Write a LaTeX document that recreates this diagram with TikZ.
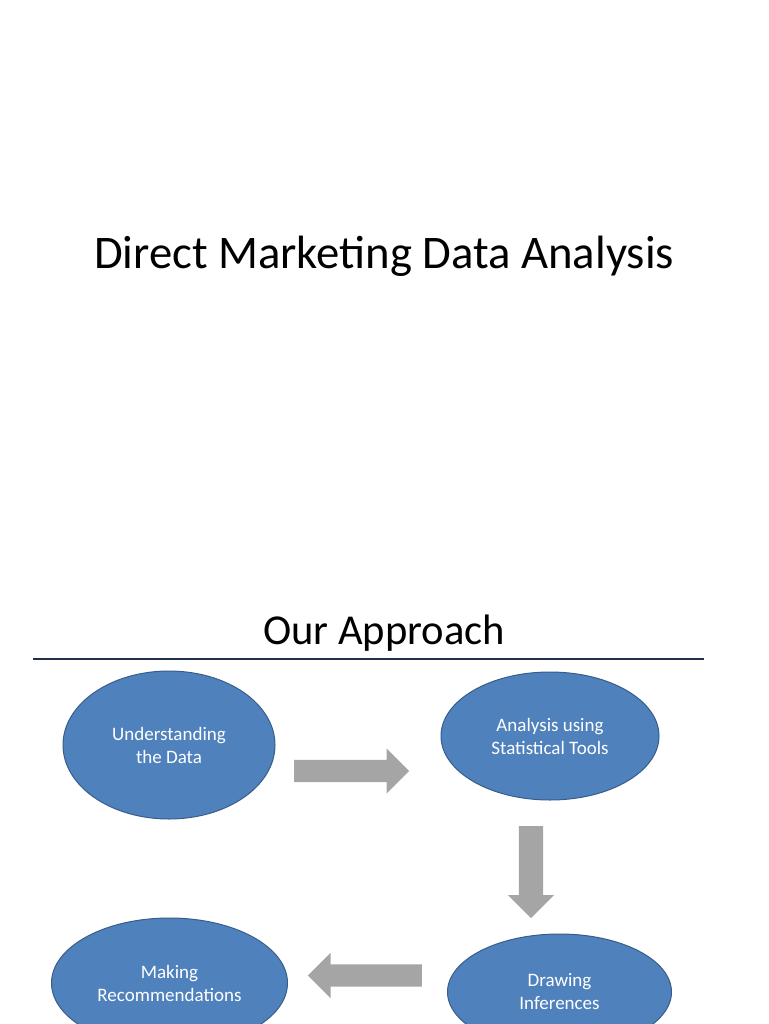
\documentclass[tikz,border=0pt]{standalone}
\usepackage{fontspec}
\setmainfont{Carlito}
\usetikzlibrary{shapes.geometric,shapes.arrows,positioning}
\definecolor{StepBlue}{HTML}{4F81BD}
\definecolor{StepEdge}{HTML}{385D8A}
\definecolor{ArrowGrey}{HTML}{A5A5A5}
\definecolor{RuleNavy}{HTML}{1F2F4F}
\tikzset{
  stage/.style={ellipse,draw=StepEdge,fill=StepBlue,line width=1pt,text=white,align=center,inner sep=0pt,font=\fontsize{19}{23}\selectfont},
  blockarrow/.style={single arrow,fill=ArrowGrey,draw=none,inner sep=11pt,single arrow head indent=0pt,anchor=tail},
  heading/.style={font=\fontsize{46.7}{52}\selectfont},
  subheading/.style={font=\fontsize{42.6}{48}\selectfont}
}
\begin{document}
\begin{tikzpicture}[x=1pt,y=-1pt]
  \useasboundingbox[fill=white] (0,0) rectangle (768,1024);
  \node[heading] (title) at (384,256) {Direct Marketing Data Analysis};
  \node[subheading] (approach) at (384,633) {Our Approach};
  \coordinate (ruleL) at (33,659);
  \coordinate (ruleR) at (704,659);
  \draw[RuleNavy,line width=1.4pt] (ruleL) -- (ruleR);

  % the four stages
  \node[stage,minimum width=212pt,minimum height=148pt] (understand) at (169,745) {Understanding\\the Data};
  \node[stage,minimum width=218pt,minimum height=128pt] (analysis) at (550,736) {Analysis using\\Statistical Tools};
  \node[stage,minimum width=224pt,minimum height=116pt] (infer) at (559.5,992) {Drawing\\Inferences};
  \node[stage,minimum width=236pt,minimum height=130pt] (recommend) at (169.5,983) {Making\\Recommendations};

  % block arrows between stages
  \node[blockarrow,minimum height=115pt,minimum width=45pt,single arrow head extend=11.5pt] (toAnalysis) at (294,771) {};
  \node[blockarrow,minimum height=92pt,minimum width=46pt,inner sep=12pt,single arrow head extend=11pt,shape border rotate=270] (toInfer) at (531,826) {};
  \node[blockarrow,minimum height=114pt,minimum width=45pt,single arrow head extend=11.5pt,shape border rotate=180] (toRecommend) at (422,975.5) {};
\end{tikzpicture}
\end{document}
